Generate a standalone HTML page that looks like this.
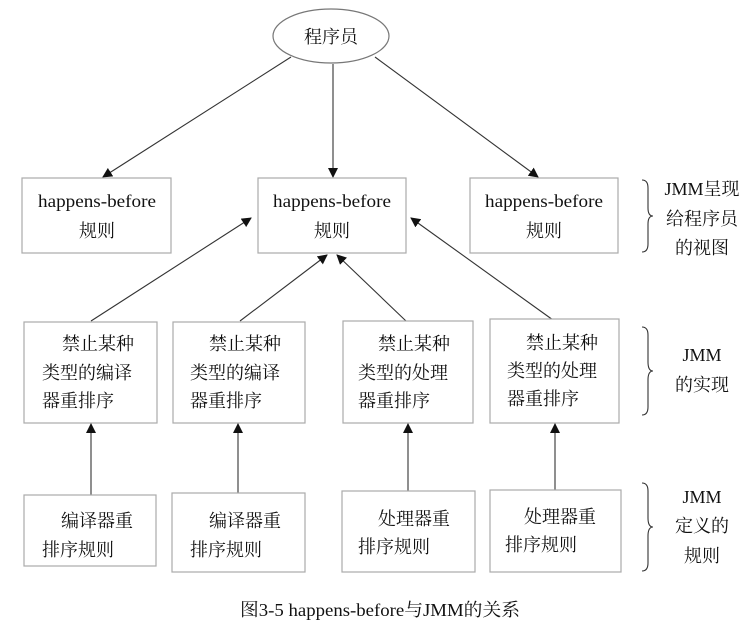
<!DOCTYPE html>
<html><head><meta charset="utf-8"><style>
html,body{margin:0;padding:0;background:#fff;}
svg{display:block;}
text{font-family:"Liberation Serif","Noto Serif CJK SC","Noto Sans CJK SC",serif;fill:#111;font-size:18px;}
.b{fill:#fff;stroke:#aaa;stroke-width:1.2;}
.l{stroke:#333;stroke-width:1.1;fill:none;}
</style></head><body>
<svg width="750" height="638" viewBox="0 0 750 638" xmlns="http://www.w3.org/2000/svg">
<defs><marker id="a" markerWidth="10" markerHeight="10" refX="9" refY="5" orient="auto" markerUnits="userSpaceOnUse"><path d="M0,0 L10,5 L0,10 z" fill="#111"/></marker></defs>
<ellipse cx="331" cy="36" rx="58" ry="27" fill="#fff" stroke="#777" stroke-width="1.2"/>
<text x="331" y="43" text-anchor="middle">程序员</text>
<line class="l" x1="291" y1="57" x2="103" y2="177" marker-end="url(#a)"/>
<line class="l" x1="333" y1="64" x2="333" y2="177" marker-end="url(#a)"/>
<line class="l" x1="375" y1="57" x2="538" y2="177" marker-end="url(#a)"/>
<rect class="b" x="22" y="178" width="149" height="75"/>
<rect class="b" x="258" y="178" width="148" height="75"/>
<rect class="b" x="470" y="178" width="148" height="75"/>
<g text-anchor="middle">
<text x="97" y="207" textLength="118" lengthAdjust="spacingAndGlyphs">happens-before</text><text x="97" y="237">规则</text>
<text x="332" y="207" textLength="118" lengthAdjust="spacingAndGlyphs">happens-before</text><text x="332" y="237">规则</text>
<text x="544" y="207" textLength="118" lengthAdjust="spacingAndGlyphs">happens-before</text><text x="544" y="237">规则</text>
</g>
<line class="l" x1="91" y1="321" x2="251" y2="218" marker-end="url(#a)"/>
<line class="l" x1="240" y1="321" x2="327" y2="255" marker-end="url(#a)"/>
<line class="l" x1="406" y1="321" x2="337" y2="255" marker-end="url(#a)"/>
<line class="l" x1="553" y1="320" x2="411" y2="218" marker-end="url(#a)"/>
<rect class="b" x="24" y="322" width="133" height="101"/>
<rect class="b" x="173" y="322" width="132" height="101"/>
<rect class="b" x="343" y="321" width="130" height="102"/>
<rect class="b" x="490" y="319" width="129" height="104"/>
<text x="62" y="350">禁止某种</text><text x="42" y="379">类型的编译</text><text x="42" y="407">器重排序</text>
<text x="209" y="350">禁止某种</text><text x="190" y="379">类型的编译</text><text x="190" y="407">器重排序</text>
<text x="378" y="350">禁止某种</text><text x="358" y="379">类型的处理</text><text x="358" y="407">器重排序</text>
<text x="526" y="349">禁止某种</text><text x="507" y="377">类型的处理</text><text x="507" y="405">器重排序</text>
<line class="l" x1="91" y1="495" x2="91" y2="424" marker-end="url(#a)"/>
<line class="l" x1="238" y1="493" x2="238" y2="424" marker-end="url(#a)"/>
<line class="l" x1="408" y1="491" x2="408" y2="424" marker-end="url(#a)"/>
<line class="l" x1="555" y1="490" x2="555" y2="424" marker-end="url(#a)"/>
<rect class="b" x="24" y="495" width="132" height="71"/>
<rect class="b" x="172" y="493" width="133" height="79"/>
<rect class="b" x="342" y="491" width="133" height="81"/>
<rect class="b" x="490" y="490" width="131" height="82"/>
<text x="61" y="527">编译器重</text><text x="42" y="556">排序规则</text>
<text x="209" y="527">编译器重</text><text x="190" y="556">排序规则</text>
<text x="378" y="525">处理器重</text><text x="358" y="553">排序规则</text>
<text x="524" y="523">处理器重</text><text x="505" y="551">排序规则</text>
<path class="l" d="M642,180 Q648,180 648,188 L648,208 Q648,216 653,216 Q648,216 648,224 L648,244 Q648,252 642,252"/>
<path class="l" d="M642,327 Q648,327 648,335 L648,362 Q648,371 653,371 Q648,371 648,380 L648,407 Q648,415 642,415"/>
<path class="l" d="M642,483 Q648,483 648,491 L648,518 Q648,527 653,527 Q648,527 648,536 L648,563 Q648,571 642,571"/>
<g text-anchor="middle">
<text x="702" y="195">JMM呈现</text><text x="702" y="225">给程序员</text><text x="702" y="254">的视图</text>
<text x="702" y="361">JMM</text><text x="702" y="391">的实现</text>
<text x="702" y="503">JMM</text><text x="702" y="532">定义的</text><text x="702" y="562">规则</text>
<text x="380" y="616" style="font-size:18px" textLength="280" lengthAdjust="spacingAndGlyphs">图3-5  happens-before与JMM的关系</text>
</g>
</svg>
</body></html>
